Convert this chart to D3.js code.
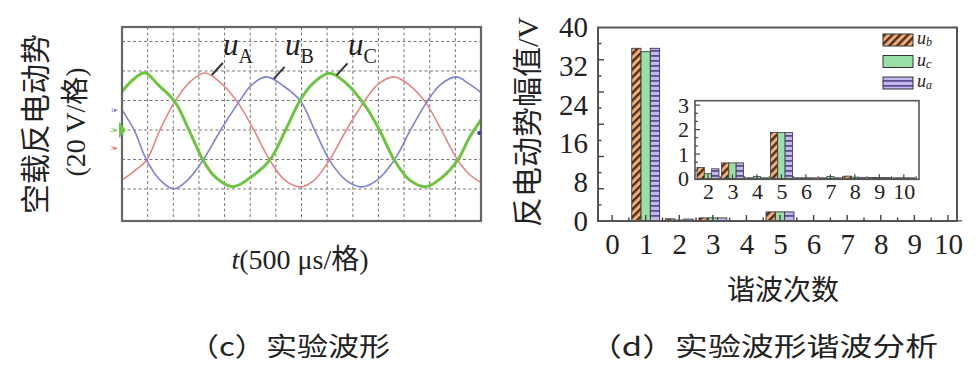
<!DOCTYPE html>
<html><head><meta charset="utf-8">
<script src="https://cdn.jsdelivr.net/npm/d3@7"></script>
<style>body{margin:0;background:#fff} svg{display:block}</style>
</head><body><svg id="c" width="976" height="378"></svg>
<script>
// ================= DATA =================
// (c) oscilloscope traces: [time in divisions, voltage in divisions (20 V/div)]
const waveA = [[0,-1.69],[0.47,-1.40],[0.96,-1.02],[1.48,0.0],[2.06,0.96],[2.65,1.63],[3.23,1.93],[3.81,1.63],[4.53,0.91],[5.14,0.0],[5.76,-1.02],[6.34,-1.69],[6.96,-1.93],[7.51,-1.69],[8.09,-1.02],[8.75,0.0],[9.38,0.88],[10.0,1.56],[10.62,1.80],[11.25,1.49],[11.86,0.91],[12.45,0.0],[13.09,-1.02],[13.54,-1.50],[14.0,-1.78]];
const waveB = [[0,0.68],[0.47,0.0],[0.96,-1.02],[1.48,-1.69],[2.02,-2.0],[2.57,-1.69],[3.16,-1.02],[3.85,0.0],[4.53,0.91],[5.06,1.53],[5.64,1.80],[6.30,1.49],[6.96,0.98],[7.51,0.0],[8.09,-1.02],[8.72,-1.69],[9.34,-1.93],[9.96,-1.69],[10.62,-1.02],[11.25,0.0],[11.86,0.91],[12.41,1.53],[13.04,1.80],[13.54,1.56],[14.0,1.27]];
const waveC = [[0,1.30],[0.45,1.72],[0.89,1.94],[1.41,1.53],[2.06,0.96],[2.61,0.0],[3.16,-1.02],[3.62,-1.58],[4.33,-1.92],[4.98,-1.63],[5.76,-1.02],[6.38,0.0],[6.99,1.07],[7.51,1.63],[8.09,1.92],[8.68,1.63],[9.46,0.85],[10.04,0.0],[10.62,-1.02],[11.21,-1.69],[11.86,-1.92],[12.45,-1.63],[13.09,-1.02],[13.54,-0.27],[14.0,0.34]];
const gridT = [1,2,3,4,5,6,7,8,9,10,11,12,13];
const gridV = [-2,-1,0,1,2,3];

// (d) harmonic amplitudes (V)
const harmonics = [1,2,3,4,5,6,7,8,9,10];
const ub = [35.7,0.45,0.64,0.03,1.88,0.03,0.03,0.10,0.04,0.03];
const uc = [35.0,0.20,0.64,0.08,1.88,0.03,0.08,0.06,0.04,0.03];
const ua = [35.7,0.40,0.64,0.03,1.88,0.03,0.03,0.05,0.04,0.03];
const seriesKeys = ["ub","uc","ua"];
const seriesSub = ["b","c","a"];
const yTickLabels = [0,8,16,24,32,40];
const xTickLabels = [0,1,2,3,4,5,6,7,8,9,10];
const insetYLabels = [0,1,2,3];
const insetXLabels = [2,3,4,5,6,7,8,9,10];

// ================= DRAW =================
const svg = d3.select("#c");
const SERIF = "'Liberation Serif','Times New Roman',serif";
const CJK = "'Liberation Serif','Noto Sans CJK SC',serif";
const defs = svg.append("defs");

// ---------- panel (c) ----------
const sx = d3.scaleLinear().domain([0,14]).range([122,481]);
const sy = d3.scaleLinear().domain([-3.085,3.49]).range([221,27]);
const gc = svg.append("g");
gc.append("rect").attr("x",sx(0)).attr("y",sy(3.49)).attr("width",sx(14)-sx(0)).attr("height",sy(-3.085)-sy(3.49)).attr("fill","#fff");
gc.selectAll("line.gt").data(gridT).join("line").attr("class","gt")
  .attr("x1",d=>sx(d)).attr("x2",d=>sx(d)).attr("y1",sy(3.49)).attr("y2",sy(-3.085))
  .attr("stroke","#777").attr("stroke-width",1).attr("stroke-dasharray","3,2.5");
gc.selectAll("line.gv").data(gridV).join("line").attr("class","gv")
  .attr("x1",sx(0)).attr("x2",sx(14)).attr("y1",d=>sy(d)).attr("y2",d=>sy(d))
  .attr("stroke","#777").attr("stroke-width",1).attr("stroke-dasharray","3,2.5");

const line = d3.line().x(d=>sx(d[0])).y(d=>sy(d[1])).curve(d3.curveCatmullRom.alpha(0.5));
gc.append("path").datum(waveA).attr("d",line).attr("fill","none").attr("stroke","#e68585").attr("stroke-width",1.6);
gc.append("path").datum(waveB).attr("d",line).attr("fill","none").attr("stroke","#8282d2").attr("stroke-width",1.6);
gc.append("path").datum(waveC).attr("d",line).attr("fill","none").attr("stroke","#6cc440").attr("stroke-width",3);

gc.append("rect").attr("x",sx(0)).attr("y",sy(3.49)).attr("width",sx(14)-sx(0)).attr("height",sy(-3.085)-sy(3.49))
  .attr("fill","none").attr("stroke","#666").attr("stroke-width",2.2);

// channel markers
[["#6f6fc8",0.68,"1"],["#6cc440",0.0,"2"],["#e06a6a",-0.62,"3"]].forEach(m=>{
  gc.append("text").attr("x",sx(0)-4).attr("y",sy(m[1])).attr("text-anchor","end").attr("dominant-baseline","central")
    .attr("font-size",7).attr("font-family",SERIF).attr("fill",m[0]).text(m[2]+"▸");
});
gc.append("path").attr("d",`M${sx(0)-3},${sy(0.28)} L${sx(0)+4},${sy(0)} L${sx(0)-3},${sy(-0.28)} Z`).attr("fill","#6cc440");
gc.append("circle").attr("cx",sx(13.93)).attr("cy",sy(-0.1)).attr("r",2).attr("fill","#3b3ba8");

// trace labels
const tl = [["A",waveA,3.23,223],["B",waveB,5.64,285],["C",waveC,8.09,348]];
tl.forEach(([s,w,tp,x])=>{
  const pk = w.find(p=>p[0]===tp);
  gc.append("line").attr("x1",sx(pk[0])+7).attr("y1",sy(pk[1])+2).attr("x2",sx(pk[0])+18).attr("y2",sy(pk[1])-10)
    .attr("stroke","#333").attr("stroke-width",2);
  const t = gc.append("text").attr("x",x).attr("y",55).attr("font-family",SERIF).attr("fill","#222");
  t.append("tspan").attr("font-style","italic").attr("font-size",31).text("u");
  t.append("tspan").attr("font-size",20).attr("dy",8).text(s);
});

// axis titles (c)
svg.append("text").attr("transform","translate(35,124) rotate(-90)").attr("text-anchor","middle").attr("dominant-baseline","central")
  .attr("font-family",CJK).attr("font-size",30).attr("fill","#222").text("空载反电动势");
svg.append("text").attr("transform","translate(75,122) rotate(-90)").attr("text-anchor","middle").attr("dominant-baseline","central")
  .attr("font-family",CJK).attr("font-size",28).attr("fill","#222").text("(20 V/格)");
const xt = svg.append("text").attr("x",300).attr("y",269).attr("text-anchor","middle")
  .attr("font-family",CJK).attr("font-size",28).attr("fill","#222");
xt.append("tspan").attr("font-style","italic").text("t");
xt.append("tspan").text("(500 μs/格)");

// ---------- panel (d) ----------
// patterns
const po = defs.append("pattern").attr("id","pOr").attr("patternUnits","userSpaceOnUse")
  .attr("width",5.5).attr("height",5.5).attr("patternTransform","rotate(45)");
po.append("rect").attr("width",5.5).attr("height",5.5).attr("fill","#f2ad78");
po.append("rect").attr("width",2.4).attr("height",5.5).attr("fill","#4a301c");
const pp = defs.append("pattern").attr("id","pPu").attr("patternUnits","userSpaceOnUse").attr("width",6).attr("height",5);
pp.append("rect").attr("width",6).attr("height",5).attr("fill","#c6b6ee");
pp.append("rect").attr("width",6).attr("height",1.8).attr("fill","#5c4c96");
const fills = {ub:"url(#pOr)", uc:"#98e0a8", ua:"url(#pPu)"};
const vals = {ub, uc, ua};

const mx = d3.scaleLinear().domain([-0.42,10.27]).range([598,957]);
const my = d3.scaleLinear().domain([0,40]).range([221,27.5]);
const gd = svg.append("g");

// main bars
const sub = d3.scaleBand().domain(seriesKeys).range([-0.415,0.415]);
seriesKeys.forEach(k=>{
  gd.selectAll("rect.b"+k).data(harmonics.map((h,i)=>({h,v:vals[k][i]}))).join("rect").attr("class","b"+k)
    .attr("x",d=>mx(d.h+sub(k))).attr("width",mx(sub.bandwidth())-mx(0))
    .attr("y",d=>my(d.v)).attr("height",d=>my(0)-my(d.v))
    .attr("fill",fills[k]).attr("stroke","#3a3a3a").attr("stroke-width",0.9);
});

// main frame + ticks
gd.append("rect").attr("x",mx(-0.42)).attr("y",my(40)).attr("width",mx(10.27)-mx(-0.42)).attr("height",my(0)-my(40))
  .attr("fill","none").attr("stroke","#555").attr("stroke-width",2);
const yt = d3.range(1,12);
gd.selectAll("line.yt").data(yt).join("line").attr("class","yt")
  .attr("x1",mx(-0.42)).attr("x2",d=>mx(-0.42)+(d%2===0?6:3.5)).attr("y1",d=>my(d*40/12)).attr("y2",d=>my(d*40/12))
  .attr("stroke","#444").attr("stroke-width",1.4);
const xtk = d3.range(0,10.01,0.5);
gd.selectAll("line.xt").data(xtk).join("line").attr("class","xt")
  .attr("x1",d=>mx(d)).attr("x2",d=>mx(d)).attr("y1",my(0)).attr("y2",d=>my(0)-(d%1===0?6:3.5))
  .attr("stroke","#444").attr("stroke-width",1.4);

// tick labels
const yAx = d3.axisLeft(my).tickValues(yTickLabels).tickSize(0).tickPadding(10).tickFormat(d3.format("d"));
gd.append("g").attr("transform",`translate(${mx(-0.42)},0)`).call(yAx)
  .call(g=>g.select(".domain").remove())
  .selectAll("text").attr("font-family",SERIF).attr("font-size",29).attr("fill","#222");
const xAx = d3.axisBottom(mx).tickValues(xTickLabels).tickSize(0).tickPadding(12).tickFormat(d3.format("d"));
gd.append("g").attr("transform",`translate(0,${my(0)})`).call(xAx)
  .call(g=>g.select(".domain").remove())
  .selectAll("text").attr("font-family",SERIF).attr("font-size",29).attr("fill","#222");

// axis titles (d)
svg.append("text").attr("transform","translate(527,122) rotate(-90)").attr("text-anchor","middle").attr("dominant-baseline","central")
  .attr("font-family",CJK).attr("font-size",30).attr("fill","#222").text("反电动势幅值/V");
svg.append("text").attr("x",783).attr("y",290).attr("text-anchor","middle").attr("dominant-baseline","central")
  .attr("font-family",CJK).attr("font-size",28).attr("fill","#222").text("谐波次数");

// legend
seriesKeys.forEach((k,i)=>{
  const y0 = 34 + i*21.5;
  gd.append("rect").attr("x",883).attr("y",y0).attr("width",30).attr("height",12)
    .attr("fill",fills[k]).attr("stroke","#333").attr("stroke-width",1);
  const t = gd.append("text").attr("x",917).attr("y",y0+10).attr("font-family",SERIF).attr("fill","#222");
  t.append("tspan").attr("font-style","italic").attr("font-size",18).text("u");
  t.append("tspan").attr("font-style","italic").attr("font-size",12).attr("dy",2).text(seriesSub[i]);
});

// inset
const ix = d3.scaleLinear().domain([1.47,10.62]).range([695,919]);
const iy = d3.scaleLinear().domain([-0.03,3.18]).range([179.3,100.7]);
const gi = gd.append("g");
gi.append("rect").attr("x",ix(1.47)).attr("y",iy(3.18)).attr("width",ix(10.62)-ix(1.47)).attr("height",iy(-0.03)-iy(3.18)).attr("fill","#fff");
defs.append("clipPath").attr("id","iclip").append("rect")
  .attr("x",ix(1.47)).attr("y",iy(3.18)).attr("width",ix(10.62)-ix(1.47)).attr("height",iy(-0.03)-iy(3.18));
const isub = d3.scaleBand().domain(seriesKeys).range([-0.45,0.45]);
const ib = gi.append("g").attr("clip-path","url(#iclip)");
seriesKeys.forEach(k=>{
  ib.selectAll("rect.i"+k).data(harmonics.map((h,i)=>({h,v:vals[k][i]})).filter(d=>d.h>=2)).join("rect").attr("class","i"+k)
    .attr("x",d=>ix(d.h+isub(k))).attr("width",ix(isub.bandwidth())-ix(0))
    .attr("y",d=>iy(d.v)).attr("height",d=>iy(0)-iy(d.v))
    .attr("fill",fills[k]).attr("stroke","#3a3a3a").attr("stroke-width",0.8);
});
gi.append("rect").attr("x",ix(1.47)).attr("y",iy(3.18)).attr("width",ix(10.62)-ix(1.47)).attr("height",iy(-0.03)-iy(3.18))
  .attr("fill","none").attr("stroke","#555").attr("stroke-width",1.6);
const iyt = d3.range(1,10).map(i=>i/3);
gi.selectAll("line.iyt").data(iyt).join("line").attr("class","iyt")
  .attr("x1",ix(1.47)).attr("x2",(d,i)=>ix(1.47)+((i+1)%3===0?5:3)).attr("y1",d=>iy(d)).attr("y2",d=>iy(d))
  .attr("stroke","#444").attr("stroke-width",1.2);
const ixt = d3.range(2,10.51,0.5);
gi.selectAll("line.ixt").data(ixt).join("line").attr("class","ixt")
  .attr("x1",d=>ix(d)).attr("x2",d=>ix(d)).attr("y1",iy(-0.03)).attr("y2",d=>iy(-0.03)-(d%1===0?5:3))
  .attr("stroke","#444").attr("stroke-width",1.2);
const iyAx = d3.axisLeft(iy).tickValues(insetYLabels).tickSize(0).tickPadding(6).tickFormat(d3.format("d"));
gi.append("g").attr("transform",`translate(${ix(1.47)},0)`).call(iyAx)
  .call(g=>g.select(".domain").remove())
  .selectAll("text").attr("font-family",SERIF).attr("font-size",22).attr("fill","#222");
const ixAx = d3.axisBottom(ix).tickValues(insetXLabels).tickSize(0).tickPadding(4).tickFormat(d3.format("d"));
gi.append("g").attr("transform",`translate(0,${iy(-0.03)})`).call(ixAx)
  .call(g=>g.select(".domain").remove())
  .selectAll("text").attr("font-family",SERIF).attr("font-size",22).attr("fill","#222");

// captions
svg.append("text").attr("x",188).attr("y",344).attr("dominant-baseline","central")
  .attr("font-family","'Noto Sans CJK SC',sans-serif").attr("font-size",26).attr("fill","#222")
  .attr("textLength",202).attr("lengthAdjust","spacingAndGlyphs").text("（c）实验波形");
svg.append("text").attr("x",589).attr("y",344).attr("dominant-baseline","central")
  .attr("font-family","'Noto Sans CJK SC',sans-serif").attr("font-size",26).attr("fill","#222")
  .attr("textLength",349).attr("lengthAdjust","spacingAndGlyphs").text("（d）实验波形谐波分析");
</script></body></html>
